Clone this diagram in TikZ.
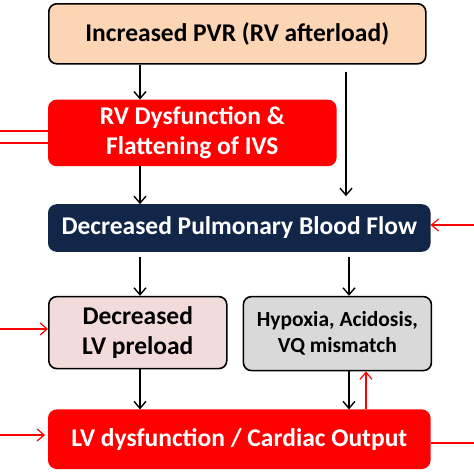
\documentclass[tikz,border=0pt]{standalone}
\usepackage{fontspec}
\setmainfont{Carlito}
\usetikzlibrary{positioning, arrows.meta}
\definecolor{peach}{HTML}{FCD5B5}
\definecolor{navy}{HTML}{12264A}
\definecolor{rosy}{HTML}{F2DCDB}
\definecolor{greybox}{HTML}{D9D9D9}
\definecolor{alarm}{HTML}{FF0000}
\begin{document}
\begin{tikzpicture}[
    x=1pt, y=-1pt,
    box/.style={rectangle, draw=black, line width=1.6pt, rounded corners=8pt, align=center, inner sep=0pt,
                font=\fontsize{25.5}{30}\selectfont\bfseries, anchor=north west},
    inbox/.style={box, fill=peach},
    redbox/.style={box, fill=alarm, draw=alarm, text=white},
    darkbox/.style={box, fill=navy, draw=navy, text=white},
    pinkbox/.style={box, fill=rosy},
    greyblock/.style={box, fill=greybox, font=\fontsize{21.5}{26}\selectfont\bfseries},
    arrow/.style={-{Straight Barb[length=7pt, width=12pt]}, line width=1.4pt},
    redarrow/.style={arrow, draw=alarm, line width=1.2pt},
    redline/.style={draw=alarm, line width=1.2pt}
]
    \useasboundingbox (0,0) rectangle (474,474);

    % Nodes
    \node[inbox, minimum width=377pt, minimum height=60pt] (pvr) at (48,3) {Increased PVR (RV afterload)};
    \node[redbox, minimum width=287pt, minimum height=65pt, below=35pt of pvr.south west, anchor=north west] (rv) {RV Dysfunction \&\\Flattening of IVS};
    \node[darkbox, minimum width=381pt, minimum height=46pt, below=38pt of rv.south west, anchor=north west] (flow) {Decreased Pulmonary Blood Flow};
    \node[pinkbox, minimum width=178pt, minimum height=72pt, below=44pt of flow.south west, anchor=north west] (pre) {Decreased\\LV preload};
    \node[greyblock, minimum width=188pt, minimum height=74pt, right=15pt of pre.north east, anchor=north west] (hyp) {Hypoxia, Acidosis,\\VQ mismatch};
    \node[redbox, minimum width=381pt, minimum height=58pt, below=40pt of pre.south west, anchor=north west] (lvd) {LV dysfunction / Cardiac Output};

    % Columns
    \coordinate (lc) at (140,0);
    \coordinate (rc) at (349,0);
    \coordinate (uc) at (366,0);

    % Arrows
    \draw[arrow] (pvr.south -| lc) -- (rv.north -| lc);
    \draw[arrow, shorten <=7pt, shorten >=8pt] (pvr.south -| 346,0) -- (flow.north -| 346,0);
    \draw[arrow] (rv.south -| lc) -- (flow.north -| lc);
    \draw[arrow, shorten <=5pt] (flow.south -| lc) -- (pre.north -| lc);
    \draw[arrow, shorten <=5pt] (flow.south -| rc) -- (hyp.north -| rc);
    \draw[arrow] (pre.south -| lc) -- (lvd.north -| lc);
    \draw[arrow] (hyp.south -| rc) -- (lvd.north -| rc);
    \draw[redarrow] (lvd.north -| uc) -- (hyp.south -| uc);

    % Feedback ends
    \coordinate (fa) at (0,131);
    \coordinate (fb) at (0,143);
    \coordinate (fc) at (474,225);
    \coordinate (fd) at (0,329);
    \coordinate (fe) at (0,435);
    \coordinate (ff) at (474,443);
    \draw[redline] (fa) -- (fa -| rv.west);
    \draw[redline] (fb) -- (fb -| rv.west);
    \draw[redarrow] (fc) -- (fc -| flow.east);
    \draw[redarrow] (fd) -- (fd -| pre.west);
    \draw[redarrow] (fe) -- ([xshift=-3pt]fe -| lvd.west);
    \draw[redline] (ff) -- (ff -| lvd.east);
\end{tikzpicture}
\end{document}
